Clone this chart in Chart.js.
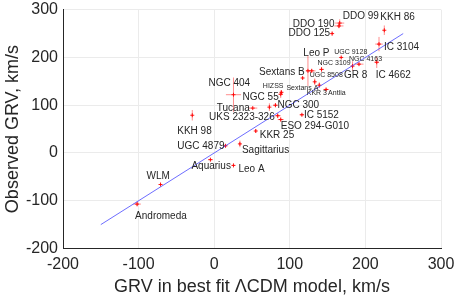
<!DOCTYPE html>
<html>
<head>
<meta charset="utf-8">
<script src="https://cdn.jsdelivr.net/npm/chart.js@4.4.1/dist/chart.umd.min.js"></script>
<style>body{margin:0;background:#fff}</style>
</head>
<body>
<canvas id="grv" width="458" height="301"></canvas>
<script>
// galaxies, model GRV (x), observed GRV (y), errors, km/s
const galaxies = ['Andromeda', 'WLM', 'Aquarius', 'Leo A', 'UGC 4879', 'Sagittarius', 'KKH 98', 'KKR 25',
    'Tucana', 'NGC 404', 'NGC 55', 'HIZSS', 'NGC 300', '', 'UKS 2323-326', 'ESO 294-G010', 'IC 5152',
    'Sextans B', 'Leo P', 'UGC 8508', 'NGC 3109', 'Sextans A', 'KKR 3', 'Antlia', 'UGC 9128', 'GR 8',
    'NGC 4163', 'IC 4662', 'IC 3104', 'KKH 86', 'DDO 99', 'DDO 190', 'DDO 125'];
const modelGrv = [-102, -71, -5, 25.5, 15, 34, -29, 55, 51, 25.5, 88, 89, 81, 73, 84, 88, 116,
    117, 124, 129, 142, 133, 139, 148, 168, 183, 191.5, 215, 218, 225, 166, 165, 156];
const observedGrv = [-107, -66, -14, -26, 15, 19, 79, 46, 94, 122, 123, 127, 100, 96, 78, 70, 80,
    157, 172, 172, 175, 149, 142, 133, 200, 182, 186, 190, 228, 257, 272, 266, 250];
const modelErr = [5, 1, 3, 2, 2, 1, 1, 1, 6, 10, 3, 2, 3, 1, 4, 4, 3,
    1, 3, 5, 3, 1, 1, 4, 1, 2, 6, 3, 5, 1, 6, 6, 1];
const observedErr = [5, 2, 2, 1, 2, 7, 11, 4, 1, 36, 8, 4, 4, 8, 5, 4, 2,
    2, 32, 4, 5, 7, 6, 3, 2, 10, 3, 12, 15, 10, 8, 5, 4];
const fitX = [-150, 250];
const fitY = [-150, 250];
const xTicks = [-200, -100, 0, 100, 200, 300];
const yTicks = [-200, -100, 0, 100, 200, 300];

// label offset from its point: dx, dy (px), align, font size
const labelPlace = {
    'Andromeda': [-2, 12, 'left', 10], 'WLM': [-14, -8, 'left', 10], 'Aquarius': [-19, 7, 'left', 10],
    'Leo A': [5, 4, 'left', 10], 'UGC 4879': [-1, 0, 'right', 10], 'Sagittarius': [2, 6, 'left', 10],
    'KKH 98': [-15, 16, 'left', 10], 'KKR 25': [4, 4, 'left', 10], 'Tucana': [-3, 0, 'right', 10],
    'NGC 404': [-25, -11.5, 'left', 10], 'NGC 55': [-2, 3, 'right', 10], 'HIZSS': [2, -6.5, 'right', 7],
    'NGC 300': [2, 0, 'left', 10], 'UKS 2323-326': [-3, 2, 'right', 10], 'ESO 294-G010': [0, 7, 'left', 10],
    'IC 5152': [2, 0, 'left', 10], 'Sextans B': [2, -6, 'right', 10], 'Leo P': [-4.6, -18, 'left', 10],
    'UGC 8508': [-2, 4, 'left', 7], 'NGC 3109': [-4, -6, 'left', 7], 'Sextans A': [3.6, 6.5, 'right', 7],
    'KKR 3': [-12.5, 8, 'left', 7], 'Antlia': [2, 4, 'left', 7], 'UGC 9128': [-7, -5, 'left', 7],
    'GR 8': [-8.5, 9, 'left', 10], 'NGC 4163': [-10, -5, 'left', 7], 'IC 4662': [-1, 13, 'left', 10],
    'IC 3104': [5, 3, 'left', 10], 'KKH 86': [-4, -13, 'left', 10], 'DDO 99': [3, -7, 'left', 10],
    'DDO 190': [-4.5, -2, 'right', 10], 'DDO 125': [-2, 0, 'right', 10]
};

const FONT = "'Liberation Sans', Arial, sans-serif";
const INK = '#262626';

const errorBars = {
    id: 'errorBars',
    beforeDatasetsDraw(chart) {
        const {ctx, scales: {x, y}} = chart;
        ctx.save();
        ctx.strokeStyle = 'rgba(255,0,0,0.45)';
        ctx.lineWidth = 1;
        modelGrv.forEach((v, i) => {
            const px = x.getPixelForValue(v), py = y.getPixelForValue(observedGrv[i]);
            ctx.beginPath();
            ctx.moveTo(x.getPixelForValue(v - modelErr[i]), py);
            ctx.lineTo(x.getPixelForValue(v + modelErr[i]), py);
            ctx.moveTo(px, y.getPixelForValue(observedGrv[i] - observedErr[i]));
            ctx.lineTo(px, y.getPixelForValue(observedGrv[i] + observedErr[i]));
            ctx.stroke();
        });
        ctx.restore();
    }
};

const pointLabels = {
    id: 'pointLabels',
    afterDatasetsDraw(chart) {
        const {ctx, scales: {x, y}} = chart;
        ctx.save();
        ctx.fillStyle = INK;
        ctx.textBaseline = 'middle';
        galaxies.forEach((name, i) => {
            if (!name) return;
            const [dx, dy, align, size] = labelPlace[name];
            ctx.font = `${size}px ${FONT}`;
            ctx.textAlign = align;
            ctx.fillText(name, x.getPixelForValue(modelGrv[i]) + dx, y.getPixelForValue(observedGrv[i]) + dy);
        });
        ctx.restore();
    }
};

new Chart(document.getElementById('grv'), {
    type: 'scatter',
    data: {
        datasets: [{
            type: 'line',
            data: fitX.map((v, i) => ({x: v, y: fitY[i]})),
            borderColor: 'rgba(60,60,255,0.75)',
            borderWidth: 1,
            pointRadius: 0,
            fill: false
        }, {
            data: modelGrv.map((v, i) => ({x: v, y: observedGrv[i]})),
            pointStyle: 'cross',
            pointRadius: 2,
            borderColor: 'rgba(255,0,0,0.9)',
            borderWidth: 1
        }]
    },
    options: {
        responsive: false,
        animation: false,
        layout: {padding: {top: 9.7, right: 17}},
        plugins: {legend: {display: false}, tooltip: {enabled: false}},
        scales: {
            x: {
                type: 'linear', min: -200, max: 300,
                afterBuildTicks: s => { s.ticks = xTicks.map(v => ({value: v})); },
                afterFit: s => { s.height = 52.5; s.paddingLeft = 0; s.paddingRight = 0; },
                grid: {color: '#ebebeb', drawTicks: false},
                border: {color: INK},
                ticks: {color: INK, padding: 6, font: {family: FONT, size: 16}},
                title: {display: true, text: 'GRV in best fit \u039BCDM model, km/s', color: INK,
                    font: {family: FONT, size: 18}, padding: {top: 0, bottom: 3.5}}
            },
            y: {
                type: 'linear', min: -200, max: 300,
                afterBuildTicks: s => { s.ticks = yTicks.map(v => ({value: v})); },
                afterFit: s => { s.width = 63; s.paddingTop = 0; s.paddingBottom = 0; },
                grid: {color: '#ebebeb', drawTicks: false},
                border: {color: INK},
                ticks: {color: INK, padding: 5, font: {family: FONT, size: 16}},
                title: {display: true, text: 'Observed GRV, km/s', color: INK,
                    font: {family: FONT, size: 18}, padding: {top: 2.5, bottom: 0}}
            }
        }
    },
    plugins: [errorBars, pointLabels]
});
</script>
</body>
</html>
